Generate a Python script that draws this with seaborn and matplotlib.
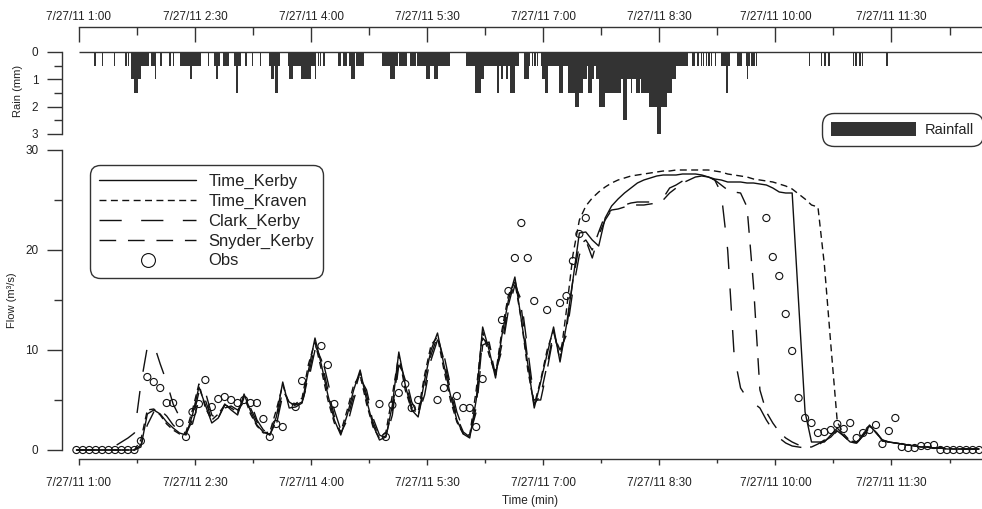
import numpy as np
import pandas as pd
import matplotlib
matplotlib.use("Agg")
import matplotlib.pyplot as plt
import seaborn as sns
from matplotlib.lines import Line2D
from matplotlib.patches import Patch
from matplotlib.ticker import FixedLocator

# ------------------------------------------------------------------ data
# flow records every 5 minutes (first record 7/27/11 0:58)
flow_times = pd.date_range("2011-07-27 00:58", "2011-07-27 12:38", freq="5min")
t_origin = pd.Timestamp("2011-07-27 01:00")

time_kerby = [0, 0, 0, 0, 0, 0, 0, 0, 0, 0,
              0.3, 3.6, 4.0, 3.6, 2.8, 2.2, 1.7, 1.5, 3.5, 6.3,
              4.5, 2.7, 3.2, 4.6, 4.0, 3.5, 5.6, 3.9, 2.5, 1.8,
              1.5, 3.3, 6.8, 4.2, 4.3, 4.7, 8.0, 11.2, 8.5, 5.5,
              3.0, 1.5, 3.5, 6.0, 8.0, 5.0, 2.5, 1.0, 1.3, 4.5,
              9.8, 6.5, 4.0, 3.3, 7.0, 10.0, 11.7, 8.5, 5.5, 3.0,
              1.6, 1.2, 5.0, 12.3, 10.0, 7.2, 11.5, 15.0, 17.3, 13.0,
              8.6, 4.2, 6.8, 9.6, 12.3, 8.8, 12.5, 17.0, 21.7, 21.8,
              21.0, 20.4, 23.2, 24.4, 25.1, 25.7, 26.2, 26.7, 27.0, 27.2,
              27.4, 27.5, 27.5, 27.5, 27.6, 27.6, 27.6, 27.5, 27.3, 27.1,
              27.0, 26.8, 26.8, 26.8, 26.7, 26.7, 26.6, 26.5, 26.2, 25.8,
              25.7, 25.7, 14.8, 3.8, 0.8, 0.8, 0.8, 1.5, 2.2, 1.4,
              0.8, 0.7, 1.5, 2.4, 1.8, 0.9, 0.8, 0.7, 0.6, 0.5,
              0.4, 0.3, 0.3, 0.2, 0.2, 0.1, 0.1, 0.1, 0.1, 0.1, 0.1]

time_kraven = [0, 0, 0, 0, 0, 0, 0, 0, 0, 0,
               1.0, 4.0, 4.1, 3.5, 2.6, 2.0, 1.6, 1.8, 4.0, 6.6,
               4.2, 3.0, 3.6, 4.5, 4.2, 3.8, 5.4, 3.6, 2.4, 1.7,
               1.8, 4.0, 6.5, 4.6, 4.6, 5.2, 8.6, 10.8, 8.0, 5.0,
               2.7, 1.8, 4.0, 6.5, 7.5, 4.6, 2.3, 1.2, 1.8, 5.5,
               9.5, 6.0, 4.0, 3.8, 7.5, 10.5, 11.3, 8.0, 5.0, 2.8,
               1.6, 1.5, 6.0, 11.8, 9.5, 7.5, 12.0, 15.5, 16.8, 13.0,
               8.0, 4.5, 7.0, 10.0, 12.0, 9.0, 14.0, 19.5, 23.0, 24.4,
               25.2, 25.8, 26.3, 26.7, 27.0, 27.2, 27.4, 27.5, 27.6, 27.7,
               27.8, 27.9, 27.9, 28.0, 28.0, 28.0, 28.0, 28.0, 28.0, 27.9,
               27.8, 27.6, 27.5, 27.4, 27.3, 27.1, 27.0, 26.9, 26.8, 26.6,
               26.4, 26.1, 25.6, 25.1, 24.5, 24.3, 18.5, 10.5, 2.8, 1.6,
               0.9, 0.8, 1.6, 2.5, 1.7, 1.0, 0.8, 0.7, 0.6, 0.5,
               0.4, 0.3, 0.3, 0.2, 0.2, 0.2, 0.1, 0.1, 0.1, 0.1, 0.1]

clark_kerby = [0, 0, 0, 0, 0, 0, 0.4, 0.8, 1.2, 1.7,
               6.6, 10.3, 10.6, 8.6, 6.8, 4.6, 3.3, 2.4, 2.6, 5.0,
               5.8, 3.5, 3.0, 4.2, 4.4, 4.0, 4.8, 4.8, 3.0, 2.0,
               1.6, 2.5, 5.5, 5.2, 4.5, 4.8, 7.0, 10.0, 9.5, 6.8,
               4.0, 2.0, 2.5, 5.0, 7.2, 6.0, 3.2, 1.5, 1.2, 3.5,
               8.5, 7.5, 4.8, 3.5, 5.5, 9.0, 11.0, 9.5, 6.5, 3.8,
               2.0, 1.5, 3.8, 10.5, 10.8, 7.8, 10.0, 14.0, 16.5, 15.0,
               10.0, 5.0, 5.0, 8.0, 11.5, 10.0, 11.5, 16.0, 19.5, 21.0,
               19.2, 21.5, 23.0, 24.0, 24.2, 24.5, 24.7, 24.8, 24.8, 24.8,
               24.8, 25.2, 26.2, 26.5, 26.9, 27.2, 27.4, 27.4, 27.3, 27.0,
               25.7, 20.0, 9.5, 6.2, 5.2, 4.7, 4.2, 3.0, 2.0, 1.2,
               0.7, 0.4, 0.3, 0.2, 0.2, 0.5, 0.9, 1.3, 2.0, 1.3,
               0.8, 0.7, 1.4, 2.2, 1.7, 0.9, 0.8, 0.7, 0.6, 0.5,
               0.4, 0.3, 0.3, 0.2, 0.2, 0.1, 0.1, 0.1, 0.1, 0.1, 0.1]

snyder_kerby = [0, 0, 0, 0, 0, 0, 0, 0, 0, 0,
                0.5, 2.5, 3.8, 4.0, 3.4, 2.5, 1.9, 1.6, 3.0, 5.8,
                5.0, 3.0, 3.2, 4.5, 4.3, 3.7, 5.2, 4.2, 2.8, 1.9,
                1.5, 2.9, 6.0, 4.8, 4.4, 4.6, 7.5, 10.5, 9.0, 6.0,
                3.4, 1.7, 3.0, 5.5, 7.8, 5.5, 2.8, 1.2, 1.4, 4.0,
                9.0, 7.0, 4.3, 3.4, 6.2, 9.5, 11.4, 9.0, 6.0, 3.3,
                1.8, 1.3, 4.3, 11.2, 10.5, 7.5, 10.6, 14.5, 17.0, 14.2,
                9.0, 4.6, 5.5, 8.5, 11.8, 9.4, 12.0, 17.0, 20.5, 21.0,
                20.0, 21.8, 23.5, 24.0, 24.1, 24.3, 24.5, 24.5, 24.5, 24.6,
                24.7, 25.0, 25.7, 26.2, 26.7, 27.0, 27.3, 27.4, 27.3, 27.0,
                26.5, 26.0, 25.8, 25.7, 24.3, 16.5, 6.0, 3.8, 2.7, 1.8,
                1.2, 0.8, 0.5, 0.3, 0.3, 0.6, 1.0, 1.3, 1.9, 1.4,
                0.8, 0.7, 1.5, 2.3, 1.8, 1.0, 0.8, 0.7, 0.6, 0.5,
                0.4, 0.3, 0.3, 0.2, 0.2, 0.1, 0.1, 0.1, 0.1, 0.1, 0.1]

nan = np.nan
obs = [0, 0, 0, 0, 0, 0, 0, 0, 0, 0,
       0.9, 7.3, 6.8, 6.2, 4.7, 4.7, 2.7, 1.3, 3.8, 4.6,
       7.0, 4.3, 5.1, 5.3, 5.0, 4.7, 5.0, 4.7, 4.7, 3.1,
       1.3, 2.6, 2.3, nan, 4.3, 6.9, nan, nan, 10.4, 8.5,
       4.6, nan, nan, nan, nan, nan, nan, 4.6, 1.3, 4.5,
       5.7, 6.6, 4.2, 5.0, nan, nan, 5.0, 6.2, nan, 5.4,
       4.2, 4.2, 2.3, 7.1, nan, nan, 13.0, 15.9, 19.2, 22.7,
       19.2, 14.9, nan, 14.0, nan, 14.7, 15.4, 18.9, 21.6, 23.2,
       nan, nan, nan, nan, nan, nan, nan, nan, nan, nan,
       nan, nan, nan, nan, nan, nan, nan, nan, nan, nan,
       nan, nan, nan, nan, nan, nan, nan, 23.2, 19.3, 17.4,
       13.6, 9.9, 5.2, 3.2, 2.7, 1.7, 1.8, 2.0, 2.6, 2.1,
       2.7, 1.2, 1.7, 2.0, 2.5, 0.6, 1.9, 3.2, 0.3, 0.2,
       0.2, 0.4, 0.4, 0.5, 0.0, 0, 0, 0, 0, 0, 0]

# rainfall (mm per minute) as runs: first minute, last minute (after 1:00), depth
rain_first = [12, 18, 27, 36, 38, 40, 43, 48, 56, 59, 63, 70, 73, 78, 86, 100, 105, 106,
              112, 120, 122, 129, 134, 140, 147, 149, 152, 162, 163, 172, 183, 185, 187,
              189, 201, 205, 209, 211, 215, 235, 241, 248, 257, 262, 266, 269, 275, 287,
              300, 307, 312, 314, 319, 324, 327, 331, 334, 345, 349, 351, 353, 355, 358,
              359, 361, 370, 372, 375, 377, 379, 384, 385, 388, 391, 394, 395, 398, 399,
              401, 403, 408, 411, 420, 422, 425, 428, 429, 432, 435, 436, 442, 448, 451,
              456, 460, 463, 466, 475, 479, 482, 484, 486, 488, 490, 493, 498, 502, 510,
              517, 518, 521, 525, 566, 575, 578, 581, 600, 602, 605, 607, 626]
rain_last = [12, 18, 27, 36, 38, 47, 45, 53, 58, 59, 63, 70, 73, 94, 87, 100, 108, 107,
             115, 125, 122, 129, 134, 140, 155, 150, 153, 183, 165, 179, 183, 185, 187,
             190, 202, 207, 212, 213, 220, 246, 244, 253, 260, 265, 286, 271, 277, 287,
             313, 311, 313, 319, 340, 325, 328, 332, 337, 348, 349, 351, 353, 355, 370,
             361, 363, 371, 374, 376, 378, 383, 384, 387, 390, 393, 394, 397, 398, 400,
             402, 407, 410, 419, 421, 424, 427, 428, 431, 434, 435, 441, 447, 450, 455,
             459, 462, 465, 471, 477, 480, 482, 484, 486, 488, 490, 493, 504, 502, 513,
             519, 518, 523, 525, 566, 575, 578, 581, 600, 602, 605, 607, 626]
rain_mm = [0.5, 0.5, 0.5, 0.5, 0.5, 1.0, 1.5, 0.5, 0.5, 1.0, 0.5, 0.5, 0.5, 0.5, 1.0, 0.5, 0.5, 1.0,
           0.5, 0.5, 1.5, 0.5, 0.5, 0.5, 0.5, 1.0, 1.5, 0.5, 1.0, 1.0, 1.0, 0.5, 0.5,
           0.5, 0.5, 0.5, 0.5, 1.0, 0.5, 0.5, 1.0, 0.5, 0.5, 0.5, 0.5, 1.0, 1.0, 0.5,
           0.5, 1.5, 1.0, 0.5, 0.5, 1.5, 1.0, 1.0, 1.5, 1.0, 0.5, 0.5, 0.5, 0.5, 0.5,
           1.0, 1.5, 0.5, 1.5, 0.5, 0.5, 1.5, 1.5, 2.0, 1.5, 1.0, 0.5, 1.5, 1.0, 0.5,
           1.0, 2.0, 1.5, 1.5, 1.0, 2.5, 1.0, 1.5, 1.0, 1.5, 1.0, 1.5, 2.0, 3.0, 2.0,
           1.5, 1.0, 0.5, 0.5, 0.5, 0.5, 0.5, 0.5, 0.5, 0.5, 0.5, 0.5, 0.5, 1.5, 0.5,
           0.5, 1.0, 0.5, 0.5, 0.5, 0.5, 0.5, 0.5, 0.5, 0.5, 0.5, 0.5, 0.5]

tick_minutes = [0, 90, 180, 270, 360, 450, 540, 630]
minor_minutes = [45, 135, 225, 315, 405, 495, 585, 675]
tick_labels = ["7/27/11 1:00", "7/27/11 2:30", "7/27/11 4:00", "7/27/11 5:30",
               "7/27/11 7:00", "7/27/11 8:30", "7/27/11 10:00", "7/27/11 11:30"]
series_names = ["Time_Kerby", "Time_Kraven", "Clark_Kerby", "Snyder_Kerby"]

# ------------------------------------------------------------------ style
sns.set_theme(style="white")
plt.rcParams["font.family"] = ["Liberation Sans", "DejaVu Sans"]
TXT = "#222222"
AXC = "#333333"
RAIN_C = "#333333"
PT = 0.72  # points per pixel at dpi 100

W, H = 982, 509
fig = plt.figure(figsize=(W / 100, H / 100), dpi=100)
X0, X1 = 76.4, 982.0
XLIM = (-2, 700.2)


def fx(px):
    return px / W


def fy(py):
    return 1 - py / H


ax_rain = fig.add_axes([fx(X0), fy(134), fx(X1 - X0), (134 - 52) / H])
ax_flow = fig.add_axes([fx(X0), fy(450), fx(X1 - X0), 300 / H])
for ax in (ax_rain, ax_flow):
    ax.set_facecolor("none")

# ------------------------------------------------------------------ rain
minute_axis = np.arange(0, 701)
depth = np.zeros(len(minute_axis))
for a, b, d in zip(rain_first, rain_last, rain_mm):
    depth[a:b + 1] = np.maximum(depth[a:b + 1], d)
m = depth > 0
ax_rain.bar(minute_axis[m], depth[m], width=1.0, align="edge", color=RAIN_C,
            linewidth=0, clip_on=False)
ax_rain.hlines(0, 0, XLIM[1], color=AXC, lw=1.0, clip_on=False)
ax_rain.set_xlim(*XLIM)
ax_rain.set_ylim(3, 0)
ax_rain.spines["right"].set_visible(False)
ax_rain.spines["bottom"].set_visible(False)
ax_rain.spines["top"].set_position(("outward", 25 * PT))
ax_rain.spines["top"].set_bounds(0, XLIM[1])
ax_rain.spines["left"].set_position(("outward", (X0 - 62) * PT))
ax_rain.spines["left"].set_bounds(0, 3)
for s in ("top", "left"):
    ax_rain.spines[s].set_color(AXC)
    ax_rain.spines[s].set_linewidth(1.0)
ax_rain.xaxis.set_ticks_position("top")
ax_rain.set_xticks(tick_minutes, tick_labels)
ax_rain.xaxis.set_minor_locator(FixedLocator(minor_minutes))
ax_rain.tick_params(axis="x", which="major", direction="in", length=15 * PT, width=1,
                    color=AXC, pad=3, labelsize=8.5, labelcolor=TXT)
ax_rain.tick_params(axis="x", which="minor", direction="in", length=8 * PT, width=1,
                    color=AXC)
ax_rain.set_yticks([0, 1, 2, 3], ["0", "1", "2", "3"])
ax_rain.yaxis.set_minor_locator(FixedLocator([0.5, 1.5, 2.5]))
ax_rain.tick_params(axis="y", which="major", direction="out", length=15 * PT, width=1,
                    color=AXC, pad=6.3, labelsize=8.5, labelcolor=TXT, left=True)
ax_rain.tick_params(axis="y", which="minor", direction="out", length=8 * PT, width=1,
                    color=AXC, left=True)
ax_rain.set_xlabel("")
ax_rain.set_ylabel("")

# ------------------------------------------------------------------ flow
minutes = (flow_times - t_origin).total_seconds() / 60.0
df = pd.DataFrame({
    "minute": np.tile(minutes, 4),
    "flow": np.concatenate([time_kerby, time_kraven, clark_kerby, snyder_kerby]),
    "model": np.repeat(series_names, len(minutes)),
})
dash_map = {"Time_Kerby": "", "Time_Kraven": (5, 3.2),
            "Clark_Kerby": (16, 14), "Snyder_Kerby": (12, 8.5)}
sns.lineplot(data=df, x="minute", y="flow", style="model", dashes=dash_map,
             color="#111111", linewidth=1.0, estimator=None, sort=False,
             legend=False, ax=ax_flow, clip_on=False)

obs_df = pd.DataFrame({"minute": minutes, "obs": obs}).dropna()
sns.scatterplot(data=obs_df, x="minute", y="obs", marker="o", s=26, ax=ax_flow,
                legend=False, clip_on=False, zorder=3)
pts = ax_flow.collections[-1]
pts.set_facecolor("none")
pts.set_edgecolor("#111111")
pts.set_linewidth(0.8)

ax_flow.set_xlim(*XLIM)
ax_flow.set_ylim(0, 30)
ax_flow.spines["right"].set_visible(False)
ax_flow.spines["top"].set_visible(False)
ax_flow.spines["left"].set_position(("outward", (X0 - 62) * PT))
ax_flow.spines["left"].set_bounds(0, 30)
ax_flow.spines["bottom"].set_position(("outward", 9 * PT))
ax_flow.spines["bottom"].set_bounds(0, XLIM[1])
for s in ("bottom", "left"):
    ax_flow.spines[s].set_color(AXC)
    ax_flow.spines[s].set_linewidth(1.0)
ax_flow.set_xticks(tick_minutes, tick_labels)
ax_flow.xaxis.set_minor_locator(FixedLocator(minor_minutes))
ax_flow.tick_params(axis="x", which="major", direction="out", length=6 * PT, width=1,
                    color=AXC, pad=9, labelsize=8.5, labelcolor=TXT, bottom=True)
ax_flow.tick_params(axis="x", which="minor", direction="out", length=4 * PT, width=1,
                    color=AXC, bottom=True)
ax_flow.set_yticks([0, 10, 20, 30], ["0", "10", "20", "30"])
ax_flow.yaxis.set_minor_locator(FixedLocator([5, 15, 25]))
ax_flow.tick_params(axis="y", which="major", direction="out", length=15 * PT, width=1,
                    color=AXC, pad=6.3, labelsize=8.5, labelcolor=TXT, left=True)
ax_flow.tick_params(axis="y", which="minor", direction="out", length=8 * PT, width=1,
                    color=AXC, left=True)
ax_flow.set_xlabel("")
ax_flow.set_ylabel("")

# axis titles
fig.text(fx(12), fy(300), "Flow (m³/s)", rotation=90, ha="center", va="center",
         fontsize=8, color=TXT)
fig.text(fx(18), fy(91), "Rain (mm)", rotation=90, ha="center", va="center",
         fontsize=8, color=TXT)
fig.text(fx(530), fy(501), "Time (min)", ha="center", va="center",
         fontsize=8.5, color=TXT)

# ------------------------------------------------------------------ legends
handles = [
    Line2D([], [], color="#111111", lw=1.0, linestyle="-"),
    Line2D([], [], color="#111111", lw=1.0, linestyle=(0, dash_map["Time_Kraven"])),
    Line2D([], [], color="#111111", lw=1.0, linestyle=(0, dash_map["Clark_Kerby"])),
    Line2D([], [], color="#111111", lw=1.0, linestyle=(0, dash_map["Snyder_Kerby"])),
    Line2D([], [], color="#111111", marker="o", linestyle="none", markersize=10,
           markerfacecolor="none", markeredgewidth=0.8),
]
labels = series_names + ["Obs"]
leg = ax_flow.legend(handles, labels, loc="upper left",
                     bbox_to_anchor=(fx(90), fy(165)), bbox_transform=fig.transFigure,
                     fontsize=12, handlelength=5.8, handletextpad=0.75,
                     labelspacing=0.28, borderpad=0.55, borderaxespad=0,
                     frameon=True, fancybox=True, framealpha=1)
fr = leg.get_frame()
fr.set_edgecolor(AXC)
fr.set_linewidth(1.0)
fr.set_boxstyle("round", pad=0, rounding_size=0.6)
for t in leg.get_texts():
    t.set_color(TXT)

leg2 = fig.legend([Patch(facecolor=RAIN_C, edgecolor="none")], ["Rainfall"],
                  loc="upper left", bbox_to_anchor=(fx(822), fy(113)),
                  bbox_transform=fig.transFigure, fontsize=10.5,
                  handlelength=5.8, handleheight=1.1, handletextpad=0.6,
                  borderpad=0.62, borderaxespad=0, frameon=True, fancybox=True,
                  framealpha=1)
fr2 = leg2.get_frame()
fr2.set_edgecolor(AXC)
fr2.set_linewidth(1.0)
fr2.set_boxstyle("round", pad=0, rounding_size=0.8)
for t in leg2.get_texts():
    t.set_color(TXT)

fig.savefig("out.png", dpi=100)
